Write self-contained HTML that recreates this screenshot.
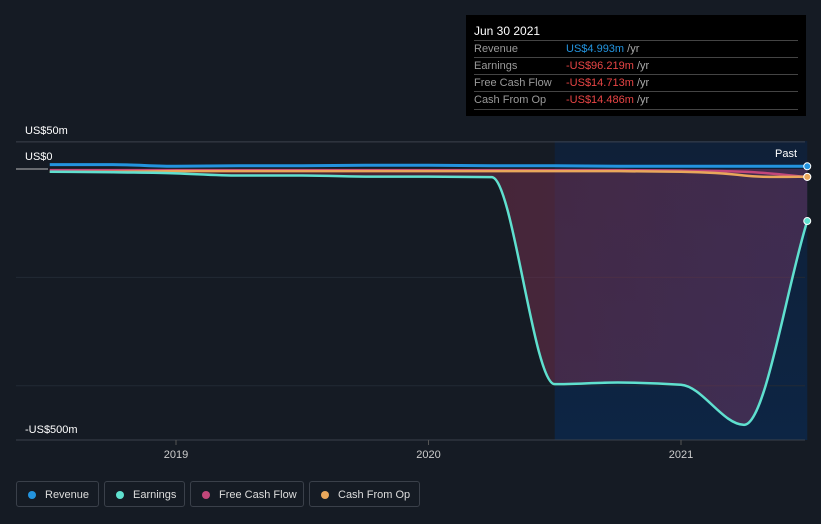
<!DOCTYPE html>
<html><head><meta charset="utf-8"><style>
body{margin:0;background:#151b24;font-family:"Liberation Sans",sans-serif;}
#c{position:relative;width:821px;height:524px;overflow:hidden;background:#151b24;}
.tip{position:absolute;left:466px;top:15px;width:340px;height:101px;background:#000;color:#ddd;font-size:11px;}
.tip .r{position:absolute;left:8px;width:324px;border-top:1px solid #444;height:17px;line-height:17px;color:#9a9a9a}
.tip .v{position:absolute;left:92px}
.leg{position:absolute;top:481px;height:26px;border:1px solid #3a404a;border-radius:3px;color:#ddd;font-size:11px;line-height:26px;box-sizing:border-box;padding-left:28px}
.leg i{position:absolute;left:11px;top:9px;width:8px;height:8px;border-radius:50%}
</style></head><body>
<div id="c">
<svg id="s" width="821" height="524" style="position:absolute;left:0;top:0"></svg>
<div class="tip">
<div style="position:absolute;left:8px;top:9px;color:#fff;font-size:12px">Jun 30 2021</div>
<div class="r" style="top:25px">Revenue<span class="v" style="color:#2394df">US$4.993m <span style="color:#aaa">/yr</span></span></div>
<div class="r" style="top:42px">Earnings<span class="v" style="color:#e84545">-US$96.219m <span style="color:#aaa">/yr</span></span></div>
<div class="r" style="top:59px">Free Cash Flow<span class="v" style="color:#e84545">-US$14.713m <span style="color:#aaa">/yr</span></span></div>
<div class="r" style="top:76px;border-bottom:1px solid #444">Cash From Op<span class="v" style="color:#e84545">-US$14.486m <span style="color:#aaa">/yr</span></span></div>
</div>
<div class="leg" style="left:16px;width:83px"><i style="background:#2394df"></i>Revenue</div>
<div class="leg" style="left:104px;width:81px"><i style="background:#5fe0cf"></i>Earnings</div>
<div class="leg" style="left:190px;width:114px"><i style="background:#c2477a"></i>Free Cash Flow</div>
<div class="leg" style="left:309px;width:111px"><i style="background:#e9a75b"></i>Cash From Op</div>
</div>
<script>
const dates=[2018.5,2018.75,2019,2019.25,2019.5,2019.75,2020,2020.25,2020.5,2020.75,2021,2021.25,2021.5];
const revenue=[8,8,5,6,6,7,7,6,6,5,5,5,5];
const earnings=[-5,-6,-8,-12,-12,-14,-14,-15,-397,-394,-398,-472,-96];
const fcf=[-2,-2,-2,-2,-2,-2,-2,-2,-2,-2,-3,-5,-14.7];
const cfo=[-5,-5,-4,-4,-4,-4,-4,-4,-4,-4,-5,-12,-14.5];
const yTicks=[50,0,-500];const yTickLabels=["US$50m","US$0","-US$500m"];
const xTicks=[2019,2020,2021];
const X=d=>176+(d-2019)*252.5, Y=v=>169-v*0.542;
const s=document.getElementById('s'),NS="http://www.w3.org/2000/svg";
function el(t,a,p){const e=document.createElementNS(NS,t);for(const k in a)e.setAttribute(k,a[k]);(p||s).appendChild(e);return e;}
function path(vals){
 const xs=dates.map(X),ys=vals.map(Y),n=xs.length;
 const dl=[],m=[];for(let i=0;i<n-1;i++)dl.push((ys[i+1]-ys[i])/(xs[i+1]-xs[i]));
 m[0]=dl[0];m[n-1]=dl[n-2];
 for(let i=1;i<n-1;i++)m[i]=(dl[i-1]*dl[i]<=0)?0:(3*(xs[i+1]-xs[i-1]))/((2*xs[i+1]-xs[i]-xs[i-1])/dl[i-1]+(xs[i+1]-2*xs[i]+xs[i-1])/dl[i]);
 let d=`M${xs[0]},${ys[0]}`;
 for(let i=0;i<n-1;i++){const h=(xs[i+1]-xs[i])/3;d+=` C${xs[i]+h},${ys[i]+m[i]*h} ${xs[i+1]-h},${ys[i+1]-m[i+1]*h} ${xs[i+1]},${ys[i+1]}`;}
 return d;}
const defs=el('defs',{});
const g1=el('linearGradient',{id:'pg',x1:0,y1:0,x2:0,y2:1},defs);
el('stop',{offset:0,'stop-color':'#0f2038'},g1);el('stop',{offset:1,'stop-color':'#0d2544'},g1);
const g2=el('linearGradient',{id:'fg',x1:0,y1:0,x2:1,y2:0},defs);
el('stop',{offset:0,'stop-color':'#6e1f22','stop-opacity':0.6},g2);el('stop',{offset:1,'stop-color':'#7a3a6a','stop-opacity':0.45},g2);
let r=el('rect',{x:X(2020.5),y:141,width:X(2021.5)-X(2020.5),height:299,fill:'url(#pg)'});

let gl=el('line',{x1:16,x2:805,y1:Y(50),y2:Y(50),stroke:'#3c424c'});

[-200,-400].forEach(v=>{let l=el('line',{x1:16,x2:805,y1:Y(v),y2:Y(v),stroke:'#222a35'});});
let f=el('path',{d:path(earnings)+` L${X(2021.5)},${Y(0)} L${X(2018.5)},${Y(0)} Z`,fill:'url(#fg)'});

let z=el('line',{x1:16,x2:48,y1:Y(0),y2:Y(0),stroke:'#bbb'});
el('line',{x1:16,x2:805,y1:440,y2:440,stroke:'#3c424c'});
[[fcf,'#c2477a','free-cash-flow-line'],[cfo,'#e9a75b','cash-from-op-line'],[earnings,'#5fe0cf','earnings-line'],[revenue,'#2394df','revenue-line']].forEach(([v,c,n])=>{
 let p=el('path',{d:path(v),fill:'none',stroke:c,'stroke-width':n=='revenue-line'?3:2.5});
 
 let dot=el('circle',{cx:X(dates[dates.length-1]),cy:Y(v[v.length-1]),r:3.5,fill:c,stroke:'#fff','stroke-width':1});
 
});
yTicks.forEach((v,i)=>{let t=el('text',{x:25,y:Y(v)+(v==50?-8:v==0?-9:-7),fill:'#fff','font-size':11});t.textContent=yTickLabels[i];});
xTicks.forEach(v=>{el('line',{x1:X(v),x2:X(v),y1:440,y2:445,stroke:'#555'});let t=el('text',{x:X(v),y:458,fill:'#ccc','font-size':11,'text-anchor':'middle'});t.textContent=v;});
let pt=el('text',{x:797,y:157,fill:'#fff','font-size':11,'text-anchor':'end'});pt.textContent='Past';
</script>
</body></html>
